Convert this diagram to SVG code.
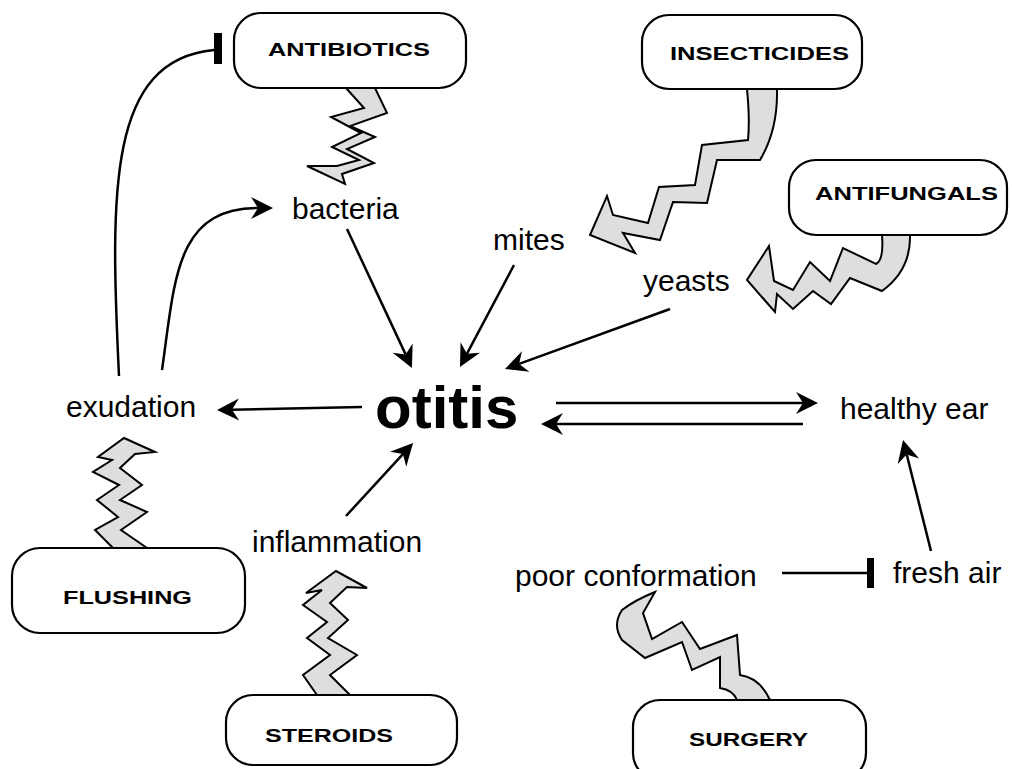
<svg xmlns="http://www.w3.org/2000/svg" width="1012" height="769" viewBox="0 0 1012 769">
<style>
.box{fill:#fff;stroke:#000;stroke-width:2.2}
.bt{font-family:"Liberation Sans",Arial,sans-serif;font-weight:bold;font-size:19px;fill:#000}
.lb{font-family:"Liberation Sans",Arial,sans-serif;font-size:30px;fill:#000}
.zz{fill:#dedede;stroke:#000;stroke-width:2;stroke-linejoin:miter}
.ed{fill:none;stroke:#000;stroke-width:2.5}
</style>
<defs>
<marker id="ah" markerUnits="userSpaceOnUse" viewBox="-8 -12 24 24" refX="0" refY="0" markerWidth="24" markerHeight="24" orient="auto">
<path d="M15,0 L-7,-11 L0,0 L-7,11 Z" fill="#000"/>
</marker>
</defs>
<rect width="1012" height="769" fill="#fff"/>

<g id="zigzags">
<polygon class="zz" points="346,88 364,108 331,117 361,133 332,147 359,160 337,166 307,166 345,184 342,174 374,163 347,149 375,137 350,126 387,113 375,88"/>
<path class="zz" d="M747,89 Q750,120 748,140 L702,145 L695,185 L659,187 L648,223 L613,215 L607,196 L590,235 L635,253 L623,233 L660,240 L673,202 L707,203 L717,160 L760,160 Q778,130 777,89 Z"/>
<path class="zz" d="M882,235 Q884,260 876,264 L843,248 L830,281 L810,262 L793,290 L774,281 L769,246 L747,280 L775,312 L777,294 L793,309 L813,291 L831,304 L850,278 L882,291 Q911,270 910,235 Z"/>
<polygon class="zz" points="113,548 95,530 118,517 97,500 119,485 93,472 112,460 98,457 124,438 155,452 135,454 120,468 142,485 120,500 147,512 121,530 147,548"/>
<polygon class="zz" points="317,695 303,675 330,655 307,638 327,622 303,605 322,590 306,593 336,571 367,588 347,587 330,603 348,620 328,638 357,655 330,675 350,695"/>
<path class="zz" d="M770,700 Q760,678 740,675 L737,635 L700,649 L682,622 L652,639 L643,613 L655,592 Q635,600 622,610 Q612,625 622,640 L645,658 L682,642 L692,670 L720,657 L720,688 Q733,690 737,700 Z"/>
</g>

<g id="connectors">
<path class="ed" d="M347,229 L405.6,354.4" marker-end="url(#ah)"/>
<path class="ed" d="M514,265 L467,353.7" marker-end="url(#ah)"/>
<path class="ed" d="M670,309 L519.1,363.9" marker-end="url(#ah)"/>
<path class="ed" d="M346,516 L402.9,454.1" marker-end="url(#ah)"/>
<path class="ed" d="M362,407 L232,409.7" marker-end="url(#ah)"/>
<path class="ed" d="M556,403 L803,403" marker-end="url(#ah)"/>
<path class="ed" d="M803,424 L556,424" marker-end="url(#ah)"/>
<path class="ed" d="M931,551 L906.7,454.5" marker-end="url(#ah)"/>
<path class="ed" d="M162,370 C175,280 175,208 258,208" marker-end="url(#ah)"/>
<path class="ed" d="M119,376 C110,190 108,60 214,50"/>
<rect x="214" y="33" width="8" height="31" fill="#000"/>
<path class="ed" d="M782,573 L868,573"/>
<rect x="867" y="558" width="7" height="30" fill="#000"/>
</g>

<g id="antibiotics"><rect class="box" x="234" y="13" width="232" height="75" rx="27"/><text class="bt" x="268" y="56" textLength="162" lengthAdjust="spacingAndGlyphs">ANTIBIOTICS</text></g>
<g id="insecticides"><rect class="box" x="642" y="15" width="220" height="74" rx="27"/><text class="bt" x="670" y="60" textLength="179" lengthAdjust="spacingAndGlyphs">INSECTICIDES</text></g>
<g id="antifungals"><rect class="box" x="789" y="160" width="218" height="75" rx="27"/><text class="bt" x="815" y="200" textLength="183" lengthAdjust="spacingAndGlyphs">ANTIFUNGALS</text></g>
<g id="flushing"><rect class="box" x="12" y="548" width="233" height="85" rx="28"/><text class="bt" x="63" y="604" textLength="129" lengthAdjust="spacingAndGlyphs">FLUSHING</text></g>
<g id="steroids"><rect class="box" x="226" y="695" width="231" height="70" rx="27"/><text class="bt" x="265" y="742" textLength="128" lengthAdjust="spacingAndGlyphs">STEROIDS</text></g>
<g id="surgery"><rect class="box" x="633" y="700" width="233" height="80" rx="27"/><text class="bt" x="689" y="746" textLength="119" lengthAdjust="spacingAndGlyphs">SURGERY</text></g>

<g id="bacteria"><text class="lb" x="292" y="219">bacteria</text></g>
<g id="mites"><text class="lb" x="493" y="250">mites</text></g>
<g id="yeasts"><text class="lb" x="643" y="291">yeasts</text></g>
<g id="otitis"><text x="375" y="428" font-family="'Liberation Sans',Arial,sans-serif" font-weight="bold" font-size="60">otitis</text></g>
<g id="exudation"><text class="lb" x="66" y="417">exudation</text></g>
<g id="healthy-ear"><text class="lb" x="840" y="419">healthy ear</text></g>
<g id="inflammation"><text class="lb" x="252" y="552">inflammation</text></g>
<g id="poor-conformation"><text class="lb" x="515" y="586">poor conformation</text></g>
<g id="fresh-air"><text class="lb" x="893" y="583">fresh air</text></g>
</svg>
